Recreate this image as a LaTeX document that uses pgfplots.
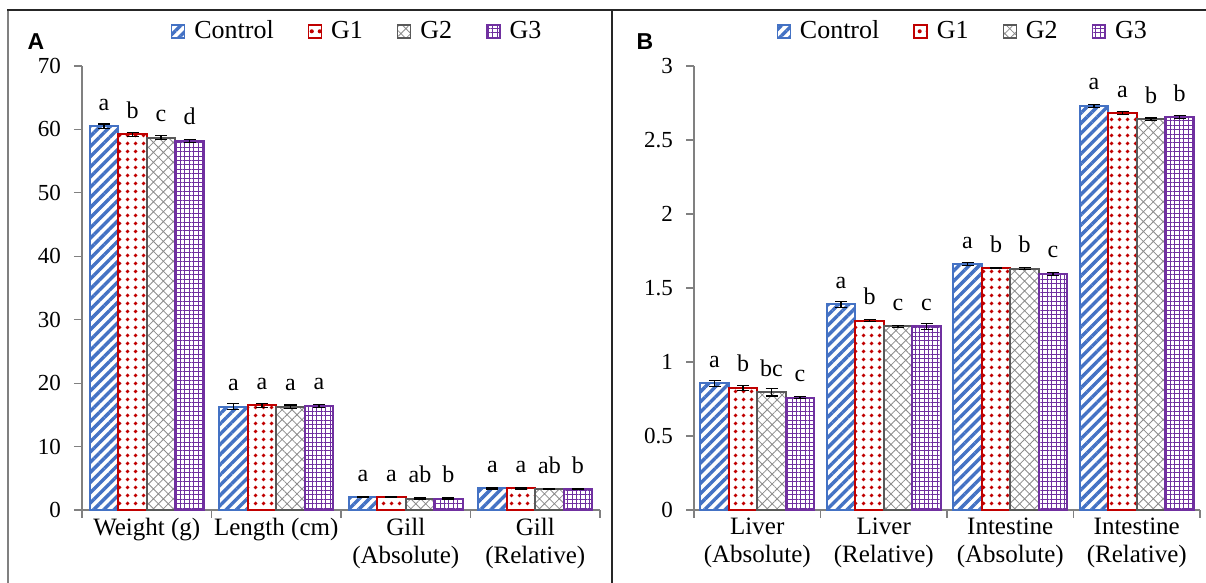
\documentclass[border=0pt]{standalone}
\usepackage{fontspec}
\setmainfont{Liberation Serif}
\newfontfamily\lsans{Liberation Sans}
\usepackage{pgfplots}
\pgfplotsset{compat=1.18}
\usepackage{pgfplotstable}
\usetikzlibrary{patterns.meta}
\definecolor{cblue}{HTML}{4472C4}
\definecolor{cred}{HTML}{C00000}
\definecolor{cgray}{HTML}{595959}
\definecolor{cpurp}{HTML}{7030A0}

% Panel A
\pgfplotstableread{
x y e l
0 60.5 0.35 a
1 16.3 0.45 a
2 2.0 0.08 a
3 3.4 0.08 a
}\Actrl
\pgfplotstableread{
x y e l
0 59.2 0.35 b
1 16.5 0.30 a
2 2.0 0.08 a
3 3.4 0.08 a
}\Aone
\pgfplotstableread{
x y e l
0 58.7 0.35 c
1 16.3 0.25 a
2 1.8 0.08 ab
3 3.3 0.08 ab
}\Atwo
\pgfplotstableread{
x y e l
0 58.2 0.25 d
1 16.4 0.25 a
2 1.8 0.08 b
3 3.3 0.10 b
}\Athree

% Panel B
\pgfplotstableread{
x y e l
0 0.855 0.018 a
1 1.39 0.020 a
2 1.66 0.010 a
3 2.73 0.010 a
}\Bctrl
\pgfplotstableread{
x y e l
0 0.825 0.018 b
1 1.28 0.008 b
2 1.635 0.005 b
3 2.68 0.010 a
}\Bone
\pgfplotstableread{
x y e l
0 0.795 0.025 bc
1 1.24 0.006 c
2 1.63 0.006 b
3 2.64 0.008 b
}\Btwo
\pgfplotstableread{
x y e l
0 0.76 0.008 c
1 1.24 0.020 c
2 1.595 0.008 c
3 2.655 0.012 b
}\Bthree

\pgfplotsset{
  sctrl/.style={draw=cblue, line width=1pt, pattern={Lines[angle=45,distance=3.6pt,line width=1.7pt]}, pattern color=cblue},
  sone/.style={draw=cred, line width=1pt, pattern={Dots[distance=4pt,radius=1.1pt]}, pattern color=cred},
  stwo/.style={draw=cgray, line width=1pt, pattern={Hatch[angle=45,distance=3.5pt,line width=0.4pt]}, pattern color=cgray!70},
  sthree/.style={draw=cpurp, line width=1pt, pattern={Hatch[angle=0,distance=2.2pt,line width=0.5pt]}, pattern color=cpurp},
  errs/.style={error bars/.cd, y dir=both, y explicit,
    error bar style={black, line width=0.6pt, solid},
    error mark options={black, rotate=90, mark size=3pt, line width=0.6pt}},
  common/.style={
    scale only axis, height=222pt,
    ybar=0pt, bar width=14.25pt,
    xmin=-0.5, xmax=3.5, ymin=0,
    axis x line*=bottom, axis y line*=left,
    axis line style={gray, line width=0.6pt},
    tick align=outside,
    tick style={gray, line width=0.6pt},
    major tick length=4pt,
    xtick={-0.5,0.5,1.5,2.5,3.5}, xticklabels={},
    extra x ticks={0,1,2,3},
    extra x tick style={major tick length=0pt},
    xticklabel style={align=center, font=\rmfamily\fontsize{12.5}{14}\selectfont, inner sep=4pt},
    yticklabel style={font=\rmfamily\fontsize{11.5}{13}\selectfont, xshift=-3pt},
    /pgf/number format/assume math mode=true,
    point meta=explicit symbolic,
    nodes near coords,
    nodes near coords style={font=\rmfamily\fontsize{12}{14}\selectfont, anchor=base, inner sep=0pt, yshift=8pt, black},
    legend columns=4,
    legend style={draw=none, fill=none, anchor=center, font=\rmfamily\fontsize{13}{15}\selectfont,
      /tikz/every odd column/.append style={column sep=2.5pt},
      /tikz/every even column/.append style={column sep=15pt}},
    legend image code/.code={\draw[##1, line width=0.7pt] (0pt,-3.25pt) rectangle (6.5pt,3.25pt);},
    clip=false,
  }
}

\begin{document}
\begin{tikzpicture}
\useasboundingbox (0,0) rectangle (603pt,291.5pt);
\draw[gray, line width=1pt] (4pt,0) -- (4pt,286.5pt);
\draw[black!85, line width=1pt] (3.5pt,286.5pt) -- (603pt,286.5pt);
\draw[black!85, line width=1.2pt] (306pt,0) -- (306pt,286.5pt);

\begin{axis}[common, at={(41pt,36.5pt)}, width=259pt,
  ymax=70, ytick={0,10,...,70},
  extra x tick labels={Weight (g), Length (cm), {Gill\\(Absolute)}, {Gill\\(Relative)}},
  legend style={at={(0.533,1.078)}}]
\addplot+[sctrl, errs] table[x=x,y=y,y error=e,meta=l]{\Actrl};
\addplot+[sone, errs] table[x=x,y=y,y error=e,meta=l]{\Aone};
\addplot+[stwo, errs] table[x=x,y=y,y error=e,meta=l]{\Atwo};
\addplot+[sthree, errs] table[x=x,y=y,y error=e,meta=l]{\Athree};
\legend{Control, G1, G2, G3}
\end{axis}

\begin{axis}[common, at={(347pt,36.5pt)}, width=253pt,
  ymax=3, ytick={0,0.5,...,3},
  extra x tick labels={{Liver\\(Absolute)}, {Liver\\(Relative)}, {Intestine\\(Absolute)}, {Intestine\\(Relative)}},
  legend style={at={(0.533,1.078)}}]
\addplot+[sctrl, errs] table[x=x,y=y,y error=e,meta=l]{\Bctrl};
\addplot+[sone, errs] table[x=x,y=y,y error=e,meta=l]{\Bone};
\addplot+[stwo, errs] table[x=x,y=y,y error=e,meta=l]{\Btwo};
\addplot+[sthree, errs] table[x=x,y=y,y error=e,meta=l]{\Bthree};
\legend{Control, G1, G2, G3}
\end{axis}

\node[font=\lsans\bfseries\fontsize{11.5}{13}\selectfont] at (18pt,270.5pt) {A};
\node[font=\lsans\bfseries\fontsize{11.5}{13}\selectfont] at (322.5pt,270.5pt) {B};
\end{tikzpicture}
\end{document}
